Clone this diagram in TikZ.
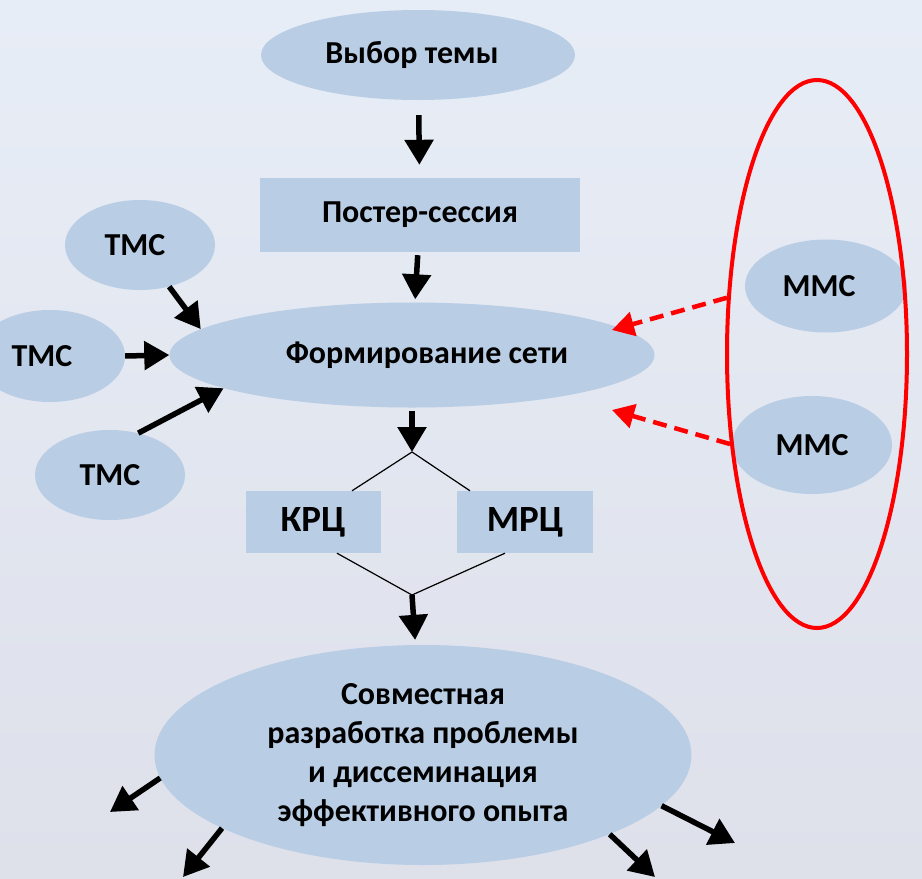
\documentclass[tikz,border=0pt]{standalone}
\usepackage{fontspec}
\setmainfont{Carlito}
\usepackage{tikz}
\usetikzlibrary{arrows.meta,%
                shapes,positioning}
\definecolor{bgtop}{HTML}{E7EDF6}
\definecolor{bgbot}{HTML}{DEE0EA}
\definecolor{boxblue}{HTML}{B9CDE5}

\begin{document}
\begin{tikzpicture}[x=1pt,y=-1pt,
  oval/.style={ellipse, fill=boxblue, inner sep=0pt, align=center,
    font=\fontsize{32}{39}\selectfont\bfseries},
  box/.style={rectangle, fill=boxblue, inner sep=0pt,
    font=\fontsize{32}{38}\selectfont\bfseries},
  arr/.style={line width=5.5pt, -{Triangle[length=25pt,width=28pt]}},
  redarr/.style={red, line width=4.5pt, dash pattern=on 14pt off 8pt,
    -{Triangle[length=22pt,width=24pt]}},
  thinline/.style={line width=1.2pt}]
\useasboundingbox[top color=bgtop, bottom color=bgbot] (0,0) rectangle (922,879);
% main column
\node[oval, minimum width=314pt, minimum height=90pt] (theme) at (418,55) {\hspace{-12pt}Выбор темы};
\node[box, minimum width=320pt, minimum height=74pt] (poster) at (420,215) {Постер-сессия};
\node[oval, minimum width=485pt, minimum height=105pt] (net) at (412,355) {\hspace{30pt}Формирование сети};
\node[box, minimum width=135pt, minimum height=62pt, font=\fontsize{37}{44}\selectfont\bfseries] (krc) at (313,522) {КРЦ};
\node[box, minimum width=136pt, minimum height=62pt, font=\fontsize{37}{44}\selectfont\bfseries] (mrc) at (525,522) {МРЦ};
\node[oval, minimum width=537pt, minimum height=220pt] (joint) at (423,755)
  {Совместная\\разработка проблемы\\и диссеминация\\эффективного опыта};
% left side
\node[oval, minimum width=150pt, minimum height=90pt] (tmcA) at (140,245) {\hspace{-10pt}ТМС};
\node[oval, minimum width=150pt, minimum height=92pt] (tmcB) at (50,356) {\hspace{-16pt}ТМС};
\node[oval, minimum width=150pt, minimum height=90pt] (tmcC) at (110,475) {ТМС};
% right side
\node[oval, minimum width=162pt, minimum height=93pt] (mmcA) at (826,286) {\hspace{-14pt}ММС};
\node[oval, minimum width=160pt, minimum height=98pt] (mmcB) at (812,445) {ММС};
\node[ellipse, draw=red, line width=4pt, minimum width=180pt, minimum height=548pt] (mmcall) at (817,354) {};
\coordinate (netR1) at (612,330);
\coordinate (netR2) at (612,410);
\coordinate (split) at (412,452);
\coordinate (merge) at (412,595);
\coordinate (outA) at (110,812);
\coordinate (outB) at (183,877);
\coordinate (outC) at (735,843);
\coordinate (outD) at (655,877);

\draw[arr, shorten <=15pt, shorten >=13pt] (theme) -- (poster);
\draw[arr, shorten <=3pt, shorten >=3pt] (poster) -- (net);
\draw[arr, shorten <=3pt] (net) -- (split);
\draw[thinline] ([xshift=39pt]krc.north) -- (split) -- ([xshift=-55pt]mrc.north);
\draw[thinline] ([xshift=24pt]krc.south) -- (merge) -- ([xshift=-20pt]mrc.south);
\draw[arr, shorten >=5pt] (merge) -- (joint);

\draw[arr] (tmcA.-55) -- (net.173);
\draw[arr] (tmcB.east) -- (net.west);
\draw[arr] (tmcC.56) -- (net.190);

\draw[redarr] (mmcall.148) -- (netR1);
\draw[redarr] (mmcall.226) -- (netR2);

\draw[arr] (joint.185) -- (outA);
\draw[arr] (joint.200) -- (outB);
\draw[arr] (joint.-12.5) -- (outC);
\draw[arr] (joint.-23) -- (outD);
\end{tikzpicture}
\end{document}
